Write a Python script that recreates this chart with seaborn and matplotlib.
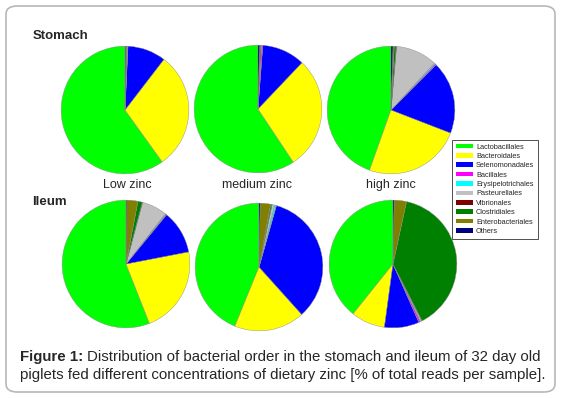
import matplotlib
matplotlib.use("Agg")
import matplotlib.pyplot as plt
import seaborn as sns
from matplotlib.patches import Patch, FancyBboxPatch

# --- data (percent of total reads) ---
orders = ['Lactobacillales', 'Bacteroidales', 'Selenomonadales', 'Bacillales',
          'Erysipelotrichales', 'Pasteurellales', 'Vibrionales', 'Clostridiales',
          'Enterobacteriales', 'Others']
order_colors = ['#00ff00', '#ffff00', '#0000ff', '#ff00ff', '#00ffff',
                '#c0c0c0', '#800000', '#008000', '#808000', '#000080']
diets = ['Low zinc', 'medium zinc', 'high zinc']

stomach_low = [60.0, 29.7, 9.7, 0.1, 0.05, 0.1, 0.1, 0.1, 0.1, 0.2]
stomach_medium = [59.4, 28.6, 10.9, 0.3, 0.05, 0.1, 0.2, 0.05, 0.1, 0.4]
stomach_high = [44.6, 24.6, 18.4, 0.3, 0.3, 10.5, 0.1, 0.5, 0.3, 0.5]
ileum_low = [56.1, 22.1, 11.0, 0.2, 0.2, 6.4, 0.1, 1.1, 2.8, 0.2]
ileum_medium = [43.8, 17.8, 33.9, 0.1, 0.4, 0.6, 0.1, 0.3, 2.6, 0.3]
ileum_high = [39.3, 8.6, 8.8, 0.4, 0.1, 0.3, 0.1, 39.1, 3.1, 0.3]

sns.set_theme(style="white")
plt.rcParams['font.family'] = ['Liberation Sans', 'DejaVu Sans']
palette = sns.color_palette(order_colors)

W, H = 564, 398
fig = plt.figure(figsize=(W / 100, H / 100), dpi=100)
fig.patch.set_facecolor('white')

# rounded frame around the whole figure
frame = FancyBboxPatch((6 / W, 6 / H), 549 / W, 386 / H,
                       boxstyle="round,pad=0,rounding_size=0.02",
                       transform=fig.transFigure, facecolor='none',
                       edgecolor='#b8b8b8', linewidth=1.2)
fig.add_artist(frame)


def draw_pie(values, cx, cy, r):
    ax = fig.add_axes([(cx - r) / W, 1 - (cy + r) / H, 2 * r / W, 2 * r / H])
    ax.pie(values, colors=palette, startangle=90, counterclock=True,
           wedgeprops=dict(linewidth=0.3, edgecolor='#8a8a8a'))
    ax.set_xlim(-1.01, 1.01)
    ax.set_ylim(-1.01, 1.01)
    ax.axis('off')


rows = [
    (stomach_low, stomach_medium, stomach_high),
    (ileum_low, ileum_medium, ileum_high),
]
centers = [
    [(125, 110), (258, 109), (391, 110)],
    [(126, 264), (259, 267), (393, 264)],
]
for series, cents in zip(rows, centers):
    for vals, (cx, cy) in zip(series, cents):
        draw_pie(vals, cx, cy, 64.5)

# section headers
fig.text(33 / W, 1 - 36 / H, 'Stomach', fontsize=9.5, fontweight='bold',
         ha='left', va='center')
fig.text(32 / W, 1 - 202 / H, 'Ileum', fontsize=9.5, fontweight='bold',
         ha='left', va='center')

# diet labels under the stomach pies
for lab, x in zip(diets, [127, 257, 391]):
    fig.text(x / W, 1 - 185 / H, lab, fontsize=9, ha='center', va='center')

# legend
handles = [Patch(facecolor=c, edgecolor='none') for c in palette]
leg = fig.legend(handles, orders, loc='upper left',
                 bbox_to_anchor=(452 / W, 1 - 140 / H), borderaxespad=0,
                 fontsize=5.3, frameon=True, fancybox=False,
                 handlelength=2.3, handleheight=0.6, handletextpad=0.45,
                 labelspacing=0.32, borderpad=0.5)
leg.get_frame().set_edgecolor('black')
leg.get_frame().set_linewidth(0.6)

# caption
renderer = fig.canvas.get_renderer()
t = fig.text(20 / W, 1 - 357 / H, 'Figure 1:', fontsize=10.8,
             fontweight='bold', ha='left', va='center')
bb = t.get_window_extent(renderer)
fig.text((bb.x1 + 4) / W, 1 - 357 / H,
         'Distribution of bacterial order in the stomach and ileum of 32 day old',
         fontsize=10.8, ha='left', va='center')
fig.text(20 / W, 1 - 375 / H,
         'piglets fed different concentrations of dietary zinc [% of total reads per sample].',
         fontsize=10.8, ha='left', va='center')

fig.savefig('out.png', dpi=100)
